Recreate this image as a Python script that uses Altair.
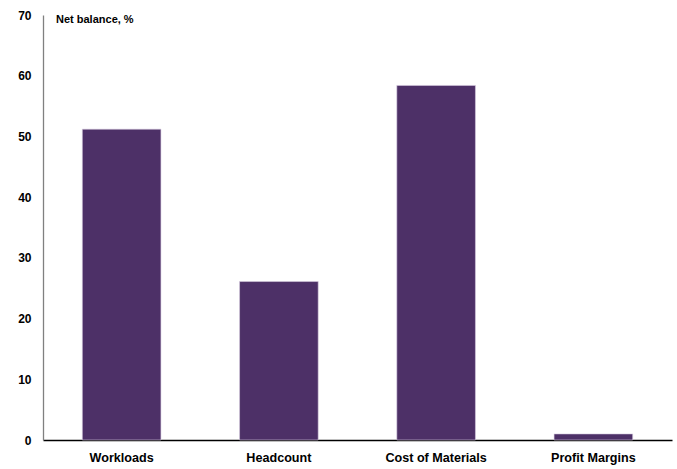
import altair as alt
import pandas as pd

categories = ["Workloads", "Headcount", "Cost of Materials", "Profit Margins"]
values = [51.2, 26.1, 58.4, 1.0]
y_ticks = [0, 10, 20, 30, 40, 50, 60, 70]
unit_label = ["Net balance, %"]

df = pd.DataFrame({"category": categories, "value": values})

FONT = "Liberation Sans"

bars = alt.Chart(df).mark_bar(color="#4D3067", stroke="#D8CCE0", strokeWidth=0.6).encode(
    x=alt.X("category:N", sort=categories, title=None,
            scale=alt.Scale(paddingInner=0.5, paddingOuter=0.25),
            axis=alt.Axis(labelAngle=0, labelFont=FONT, labelFontSize=12.6, labelFontWeight="bold",
                          labelColor="#000000", labelPadding=11, ticks=False,
                          domainColor="#000000", domainWidth=1.3)),
    y=alt.Y("value:Q", title=None,
            scale=alt.Scale(domain=[0, 70], nice=False),
            axis=alt.Axis(values=y_ticks, grid=False, ticks=False, labelFont=FONT, labelFontSize=12,
                          labelFontWeight="bold", labelColor="#000000", labelPadding=12,
                          domainColor="#808080", domainWidth=1.3)),
)

label = alt.Chart(pd.DataFrame({"t": unit_label})).mark_text(
    align="left", baseline="middle", font=FONT, fontSize=11, fontWeight="bold", color="#000000"
).encode(text="t:N", x=alt.value(13), y=alt.value(5))

chart = (bars + label).properties(
    width=629, height=425,
    autosize=alt.AutoSizeParams(type="none"),
    padding={"left": 43, "top": 15, "right": 5, "bottom": 29},
).configure_view(stroke=None)

chart.save("out.html", embed_options={"renderer": "svg", "actions": False})
